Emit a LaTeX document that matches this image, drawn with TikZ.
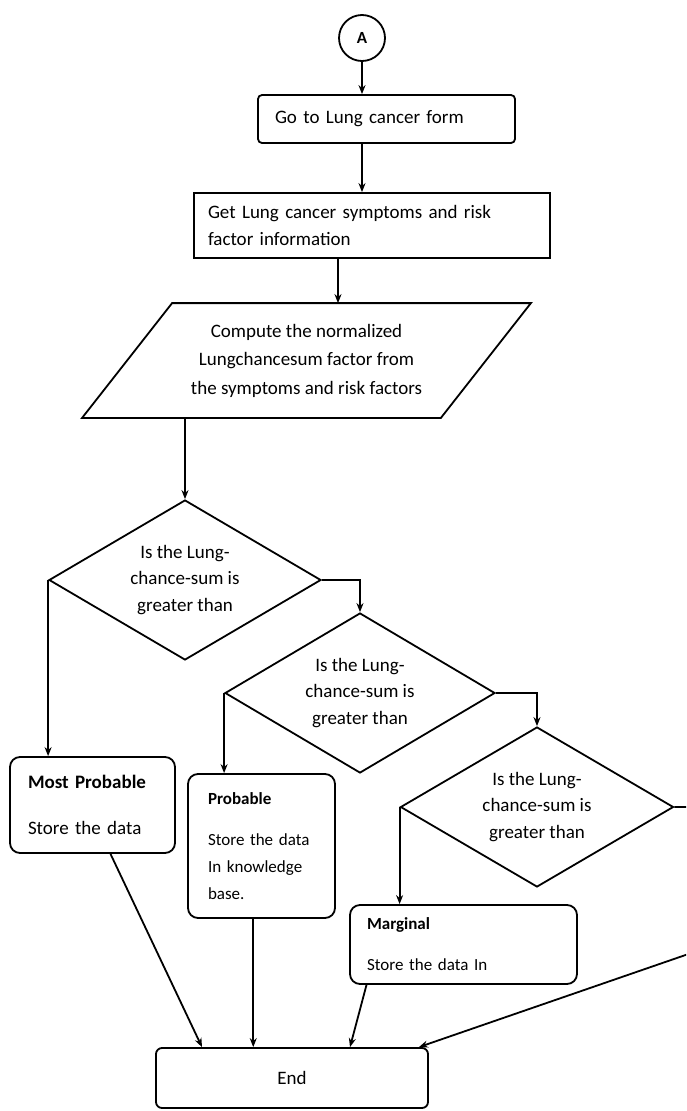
\documentclass[tikz,border=0pt]{standalone}
\usepackage{fontspec}
\setmainfont{Carlito}
\usetikzlibrary{shapes.geometric,arrows.meta}

\begin{document}
\begin{tikzpicture}[x=1pt, y=-1pt, line width=1.8pt,
        >={Stealth[length=9pt,width=7pt]},
        every node/.style={font=\fontsize{19}{27}\selectfont},
        flowbox/.style={draw, rectangle, align=left, inner sep=0pt},
        storebox/.style={flowbox, rounded corners=10pt},
        decision/.style={draw, diamond, aspect=1.7, align=center, inner sep=0pt,
            minimum height=160pt, font=\fontsize{19}{26.5}\selectfont}]
        \useasboundingbox (0,0) rectangle (686,1111);
        \clip (0,0) rectangle (686,1111);

        % Draw the connector and the first steps
        \node[draw, circle, minimum size=46pt, inner sep=0pt,
            font=\fontsize{17}{20}\selectfont\bfseries] (A) at (362,38) {A};
        \node[flowbox, rounded corners=4pt, text width=223pt, inner xsep=17pt,
            minimum height=48pt] (goform) at (386.5,119) {Go to Lung cancer form};
        \node[flowbox, text width=328pt, inner xsep=14pt, minimum height=65pt]
            (getinfo) at (372,225.5) {Get Lung cancer symptoms and risk\\factor information};

        % Draw the compute step
        \node[minimum width=447pt, minimum height=113pt, align=center, inner sep=0pt,
            font=\fontsize{19}{28.5}\selectfont] (compute) at (306.5,360.5)
            {Compute the normalized\\Lungchancesum factor from\\the symptoms and risk factors};
        \draw ([xshift=90pt]compute.north west) -- (compute.north east)
            -- ([xshift=-90pt]compute.south east) -- (compute.south west) -- cycle;

        % Draw the decisions
        \node[decision, minimum width=272pt] (d1) at (185,580) {Is the Lung-\\chance-sum is\\greater than};
        \node[decision, minimum width=270pt] (d2) at (360,693) {Is the Lung-\\chance-sum is\\greater than};
        \node[decision, minimum width=273pt] (d3) at (537,807) {Is the Lung-\\chance-sum is\\greater than};

        % Draw the outcomes
        \node[storebox, text width=129pt, inner xsep=18pt, minimum height=96pt]
            (mostprob) at (92.5,805) {{\bfseries Most Probable}\\[19pt]Store the data};
        \node[storebox, text width=107pt, inner xsep=20pt, minimum height=144pt,
            font=\fontsize{17}{27}\selectfont] (prob) at (261.5,846)
            {{\bfseries Probable}\\[14pt]Store the data\\In knowledge\\base.};
        \node[storebox, text width=193pt, inner xsep=17pt, minimum height=79pt,
            font=\fontsize{17}{27}\selectfont] (marg) at (463.5,944.5)
            {{\bfseries Marginal}\\[14pt]Store the data In};
        \node[flowbox, rounded corners=6pt, minimum width=272pt, minimum height=60pt]
            (endbox) at (292,1078) {End};

        % Draw the arrows
        \draw[->] (A) -- (A |- goform.north);
        \draw[->] (A |- goform.south) -- (A |- getinfo.north);
        \draw[->] ([xshift=-34pt]getinfo.south) -- ([xshift=-34pt]getinfo.south |- compute.north);
        \draw[->] (d1 |- compute.south) -- (d1.north);
        \draw[->] (d1.west) -- (d1.west |- mostprob.north);
        \draw[->] (d1.east) -| (d2.north);
        \draw[->] (d2.west) -- (d2.west |- prob.north);
        \draw[->] (d2.east) -| (d3.north);
        \draw[->] (d3.west) -- (d3.west |- marg.north);
        \coordinate (rimtop) at (700,807);
        \coordinate (rimlow) at (700,950);
        \draw[->] (d3.east) -- (rimtop) -- (rimlow) -- ([xshift=-10pt]endbox.north east);
        \draw[->] ([xshift=18pt]mostprob.south) -- ([xshift=-90pt]endbox.north);
        \draw[->] ([xshift=-8.25pt]prob.south) -- ([xshift=-8.25pt]prob.south |- endbox.north);
        \draw[->] ([xshift=-97pt]marg.south) -- ([xshift=58pt]endbox.north);
    \end{tikzpicture}
\end{document}
